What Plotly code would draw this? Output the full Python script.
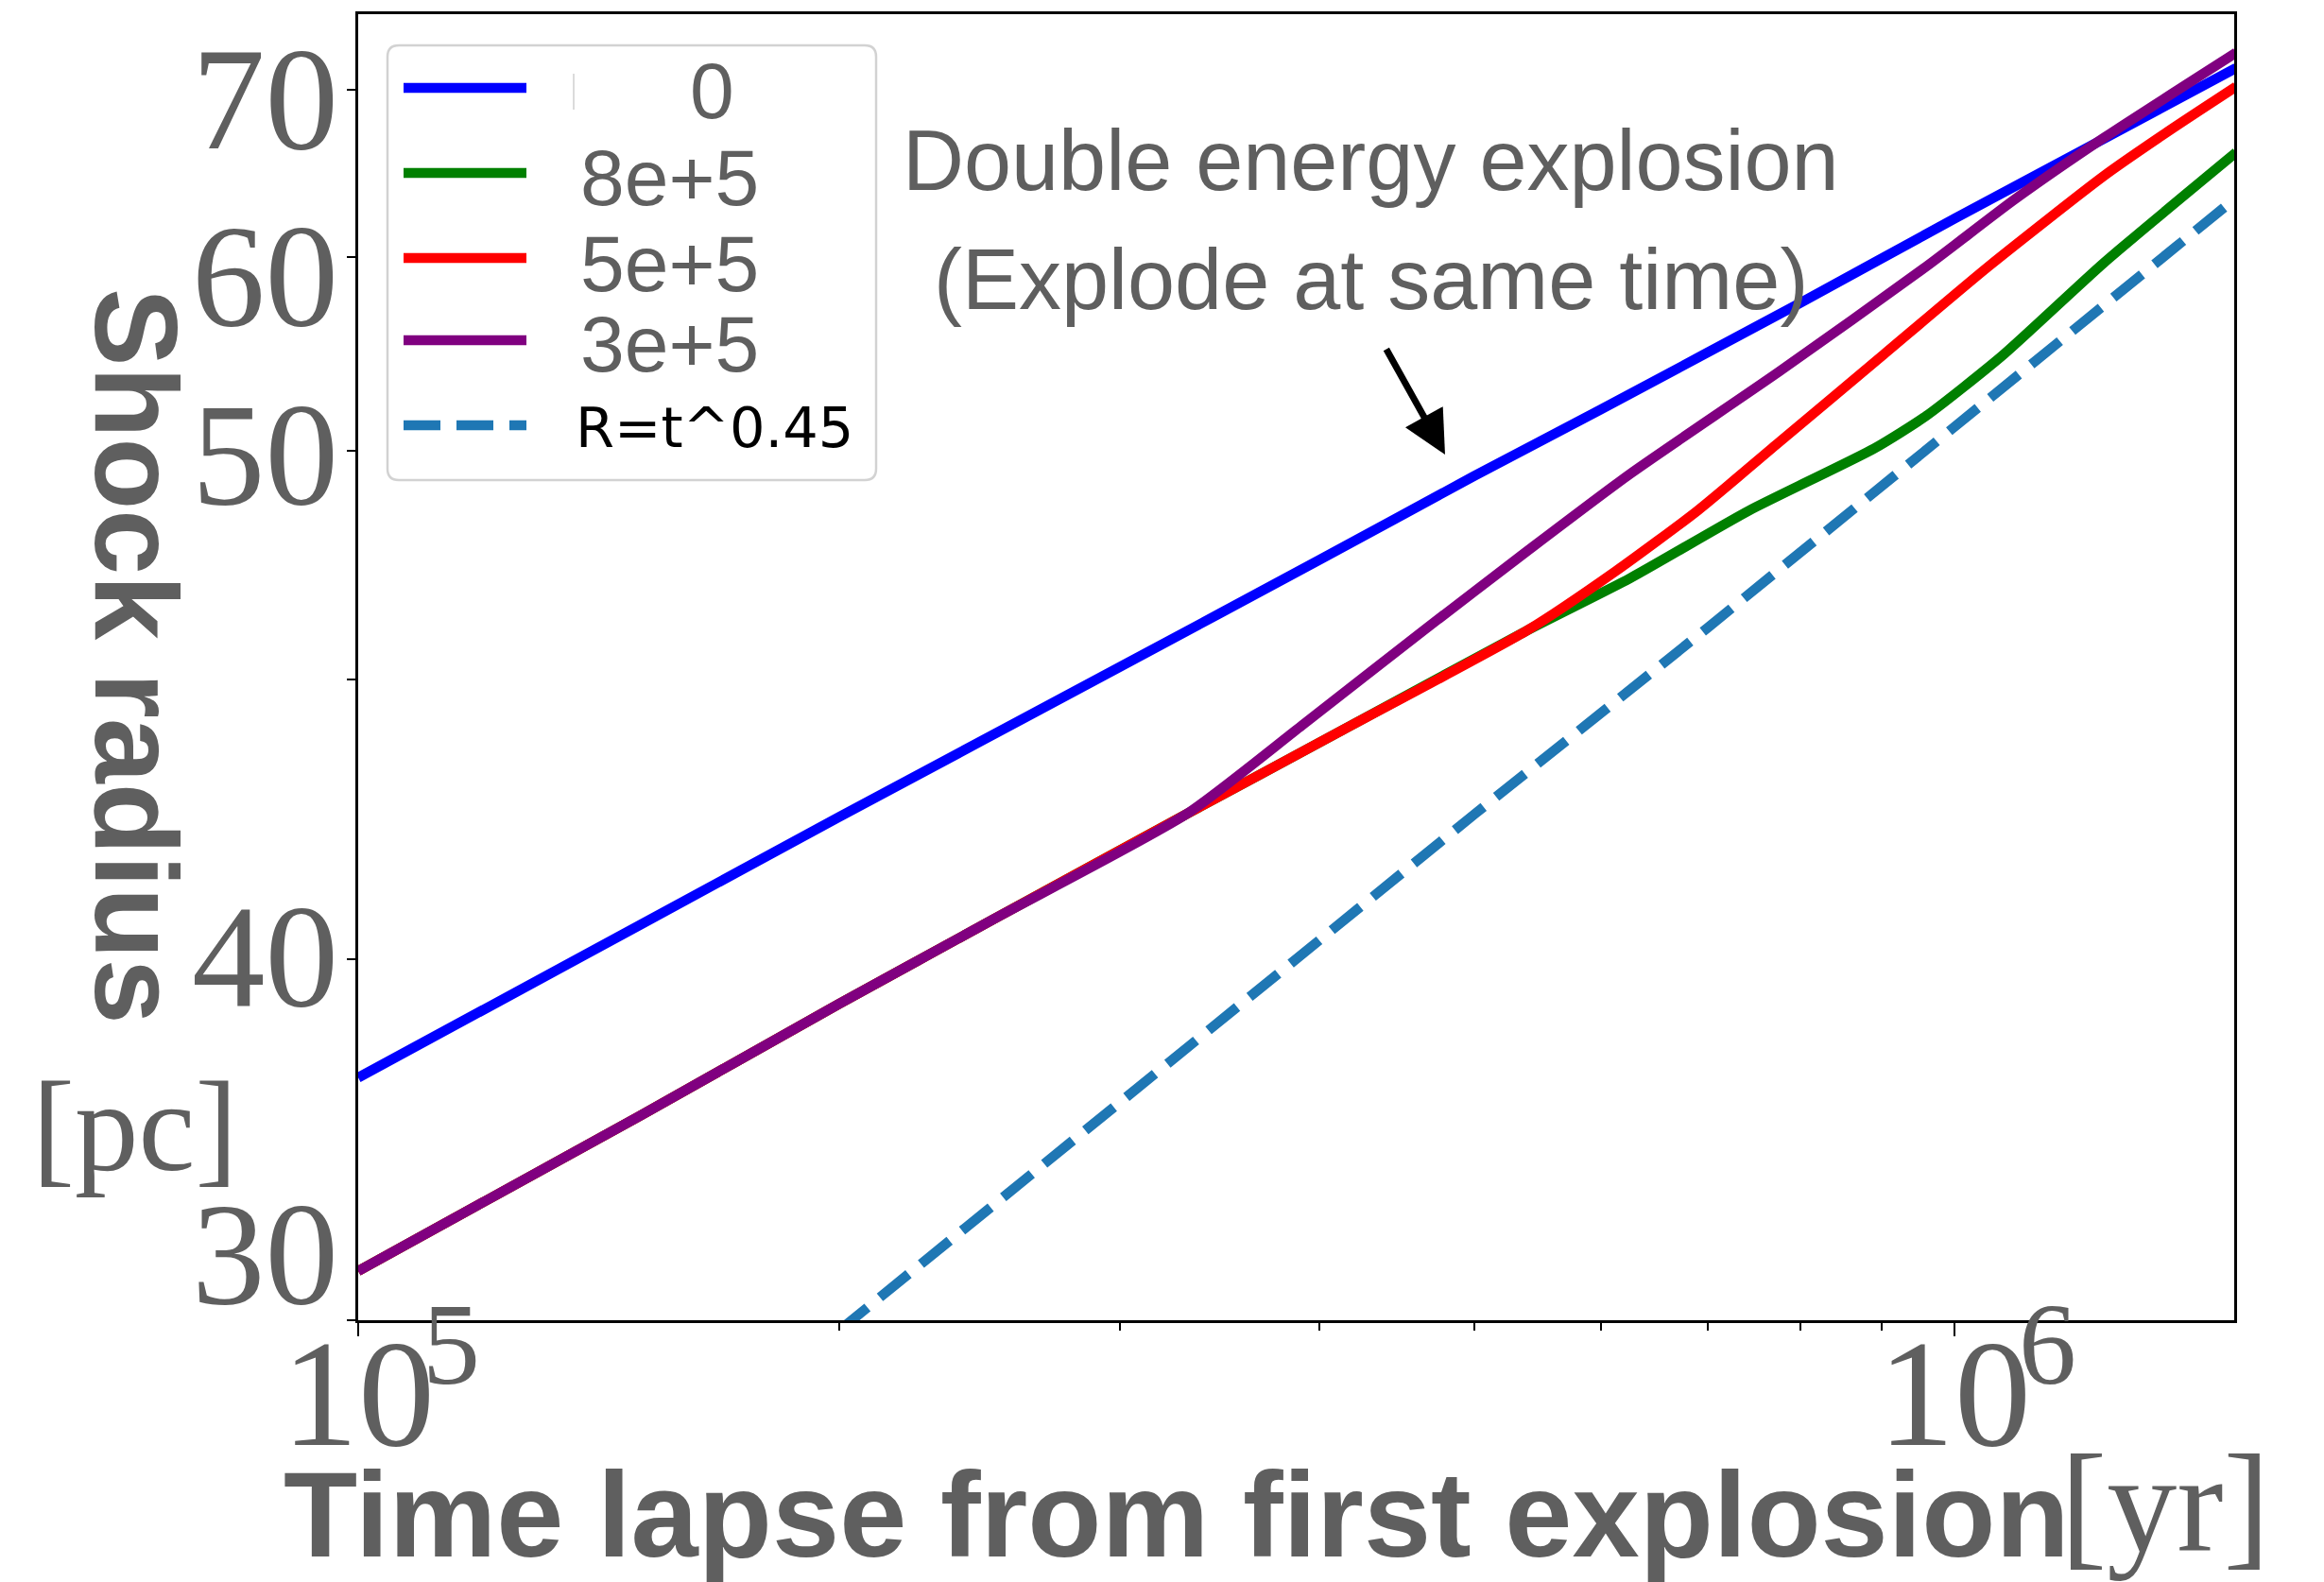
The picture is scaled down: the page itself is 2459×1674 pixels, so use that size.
import math
import plotly.graph_objects as go

# Shock radius [pc] vs time since the first explosion [yr];
# the second explosion is set off at the delay given in the legend.
delay_labels = ["0", "8e+5", "5e+5", "3e+5"]
power_label = "R=t^0.45"
series_colors = ["#0000ff", "#008000", "#ff0000", "#800080"]

t_delay_0 = [1e5, 1.5e5, 2e5, 3e5, 4e5, 5e5, 6e5, 8e5, 1e6, 1.2e6, 1.5e6]
r_delay_0 = [36.4, 41.1, 44.8, 50.5, 55.0, 58.8, 62.0, 67.5, 72.2, 76.2, 81.4]

t_delay_8e5 = [1e5, 1.5e5, 2e5, 2.5e5, 3.3e5, 4.1e5, 5.4e5, 6.26e5, 7.43e5, 8.9e5, 9.6e5, 1.07e6, 1.24e6, 1.5e6]
r_delay_8e5 = [31.2, 35.3, 38.6, 41.3, 44.9, 47.9, 52.0, 54.2, 57.2, 60.1, 61.7, 64.7, 69.7, 76.1]

t_delay_5e5 = [1e5, 1.5e5, 2e5, 2.5e5, 3.3e5, 4.1e5, 5.4e5, 6.13e5, 6.9e5, 7.76e5, 9.0e5, 1.05e6, 1.24e6, 1.37e6, 1.5e6]
r_delay_5e5 = [31.2, 35.3, 38.6, 41.3, 44.9, 47.9, 52.0, 54.5, 57.2, 60.4, 64.7, 69.5, 74.7, 77.6, 80.2]

t_delay_3e5 = [1e5, 1.5e5, 2e5, 2.5e5, 3.3e5, 3.9e5, 4.65e5, 5.4e5, 6.26e5, 7.76e5, 9.6e5, 1.09e6, 1.24e6, 1.5e6]
r_delay_3e5 = [31.2, 35.3, 38.6, 41.3, 44.9, 48.2, 52.0, 55.4, 58.9, 63.9, 69.5, 73.3, 77.0, 82.4]

t_power = [2e5, 3e5, 5e5, 7e5, 1e6, 1.5e6]
r_power = [29.75, 35.7, 44.9, 52.1, 61.2, 73.4]

x_tick_vals = [1e5, 1e6]
x_tick_base = "10"
x_tick_exp = ["5", "6"]
x_minor_vals = [2e5, 3e5, 4e5, 5e5, 6e5, 7e5, 8e5, 9e5]
y_tick_vals = [30, 40, 50, 60, 70, 80]
y_label_text = ["70", "60", "50", "40", "30"]

W, H = 2459, 1674
L, R, T, B = 379, 95, 15, 277
PW, PH = W - L - R, H - T - B

GRAY = "#5f5f5f"
SERIF = "Liberation Serif, Times New Roman, serif"
SANS = "Liberation Sans, Arial, sans-serif"
LW = 10.5


def px(X):
    return (X - L) / PW


def py(Y):
    return (H - B - Y) / PH


fig = go.Figure()
curves = [(t_delay_0, r_delay_0), (t_delay_8e5, r_delay_8e5),
          (t_delay_5e5, r_delay_5e5), (t_delay_3e5, r_delay_3e5)]
for (t, r), name, color in zip(curves, delay_labels, series_colors):
    fig.add_trace(go.Scatter(x=t, y=r, mode="lines", name=name,
                             line=dict(color=color, width=LW, shape="spline", smoothing=0.6),
                             showlegend=False))
fig.add_trace(go.Scatter(x=t_power, y=r_power, mode="lines", name=power_label,
                         line=dict(color="#1f77b4", width=LW, dash="39px,17px"),
                         showlegend=False))

shapes = []
annotations = []

# legend box with rounded corners
x0, x1, y0, y1 = 410, 927, 48, 508
rad = 12
rx, ry = rad / PW, rad / PH
a, b, c, d = px(x0), px(x1), py(y1), py(y0)
path = (f"M{a+rx},{c} L{b-rx},{c} Q{b},{c} {b},{c+ry} L{b},{d-ry} Q{b},{d} {b-rx},{d} "
        f"L{a+rx},{d} Q{a},{d} {a},{d-ry} L{a},{c+ry} Q{a},{c} {a+rx},{c} Z")
shapes.append(dict(type="path", xref="paper", yref="paper", path=path,
                   line=dict(color="#d2d2d2", width=2.5), fillcolor="rgba(255,255,255,0.85)",
                   layer="above"))

legend_rows_y = [93, 183, 273, 360, 450]
for i, ry_ in enumerate(legend_rows_y):
    if i < 4:
        line = dict(color=series_colors[i], width=LW)
    else:
        line = dict(color="#1f77b4", width=LW, dash="39px,17px")
    shapes.append(dict(type="line", xref="paper", yref="paper",
                       x0=px(427), x1=px(557), y0=py(ry_), y1=py(ry_),
                       line=line, layer="above"))

# thin mark left of the first legend entry
shapes.append(dict(type="line", xref="paper", yref="paper",
                   x0=px(607), x1=px(607), y0=py(78), y1=py(116),
                   line=dict(color="#cfcfcf", width=1.5), layer="above"))

legend_text_pos = [(753, 96, "center"), (612, 188, "left"), (612, 279, "left"),
                   (612, 364, "left")]
for (X, Y, anchor), txt in zip(legend_text_pos, delay_labels):
    annotations.append(dict(xref="paper", yref="paper", x=px(X), y=py(Y),
                            text=txt, showarrow=False, xanchor=anchor, yanchor="middle",
                            font=dict(family=SANS, size=84, color=GRAY)))
annotations.append(dict(xref="paper", yref="paper", x=px(607), y=py(452),
                        text=power_label, showarrow=False, xanchor="left", yanchor="middle",
                        font=dict(family="DejaVu Sans", size=59, color="#000000")))

# explanatory note and arrow
annotations.append(dict(xref="paper", yref="paper", x=px(1450), y=py(170),
                        text="Double energy explosion", showarrow=False,
                        xanchor="center", yanchor="middle",
                        font=dict(family=SANS, size=90, color=GRAY)))
annotations.append(dict(xref="paper", yref="paper", x=px(1450), y=py(296),
                        text="(Explode at same time)", showarrow=False,
                        xanchor="center", yanchor="middle",
                        font=dict(family=SANS, size=90, color=GRAY)))
annotations.append(dict(xref="paper", yref="paper", x=px(1529), y=py(481),
                        ax=-63, ay=-113, axref="pixel", ayref="pixel",
                        text="", showarrow=True, arrowhead=2, arrowsize=1.3,
                        arrowwidth=7, arrowcolor="#000000"))

# y-axis number labels
y_label_pos = [105, 292, 481, 1012, 1327]
for txt, Y in zip(y_label_text, y_label_pos):
    annotations.append(dict(xref="paper", yref="paper", x=px(360), y=py(Y),
                            text=txt, showarrow=False, xanchor="right", yanchor="middle",
                            font=dict(family=SERIF, size=155, color=GRAY)))

# x-axis decade labels: base and raised exponent, anchored on the tick positions
for tv, ex in zip(x_tick_vals, x_tick_exp):
    annotations.append(dict(xref="x", yref="paper", x=math.log10(tv), y=py(1474),
                            text=x_tick_base, showarrow=False, xanchor="center",
                            yanchor="middle",
                            font=dict(family=SERIF, size=162, color=GRAY)))
    annotations.append(dict(xref="x", yref="paper", x=math.log10(tv), y=py(1423),
                            xshift=66, text=ex, showarrow=False, xanchor="left",
                            yanchor="middle",
                            font=dict(family=SERIF, size=122, color=GRAY)))

# axis titles
annotations.append(dict(xref="paper", yref="paper", x=px(144), y=py(694),
                        text="<b>Shock radius</b>", textangle=90, showarrow=False,
                        xanchor="center", yanchor="middle",
                        font=dict(family=SANS, size=124, color=GRAY)))
annotations.append(dict(xref="paper", yref="paper", x=px(142), y=py(1192),
                        text="[pc]", showarrow=False, xanchor="center", yanchor="middle",
                        font=dict(family=SERIF, size=135, color=GRAY)))
annotations.append(dict(xref="paper", yref="paper", x=px(298), y=py(1603),
                        text="<b>Time lapse from first explosion</b>", showarrow=False,
                        xanchor="left", yanchor="middle",
                        font=dict(family=SANS, size=128, color=GRAY)))
annotations.append(dict(xref="paper", yref="paper", x=px(2178), y=py(1591),
                        text="[yr]", showarrow=False, xanchor="left", yanchor="middle",
                        font=dict(family=SERIF, size=148, color=GRAY)))

fig.update_layout(
    width=W, height=H,
    margin=dict(l=L, r=R, t=T, b=B, autoexpand=False),
    paper_bgcolor="white", plot_bgcolor="white",
    showlegend=False,
    shapes=shapes, annotations=annotations,
    xaxis=dict(type="log", range=[5, math.log10(1.496e6)],
               tickmode="array", tickvals=x_tick_vals, showticklabels=False,
               ticks="outside", ticklen=14, tickwidth=2, tickcolor="black",
               minor=dict(tickmode="array", tickvals=x_minor_vals, ticks="outside",
                          ticklen=8, tickwidth=2, tickcolor="black", showgrid=False),
               showline=True, mirror=True, linecolor="black", linewidth=2.5,
               showgrid=False, zeroline=False),
    yaxis=dict(type="log", range=[math.log10(30), math.log10(84.97)],
               tickmode="array", tickvals=y_tick_vals, showticklabels=False,
               ticks="outside", ticklen=9, tickwidth=2, tickcolor="black",
               showline=True, mirror=True, linecolor="black", linewidth=2.5,
               showgrid=False, zeroline=False),
)

fig.write_html("out.html")
